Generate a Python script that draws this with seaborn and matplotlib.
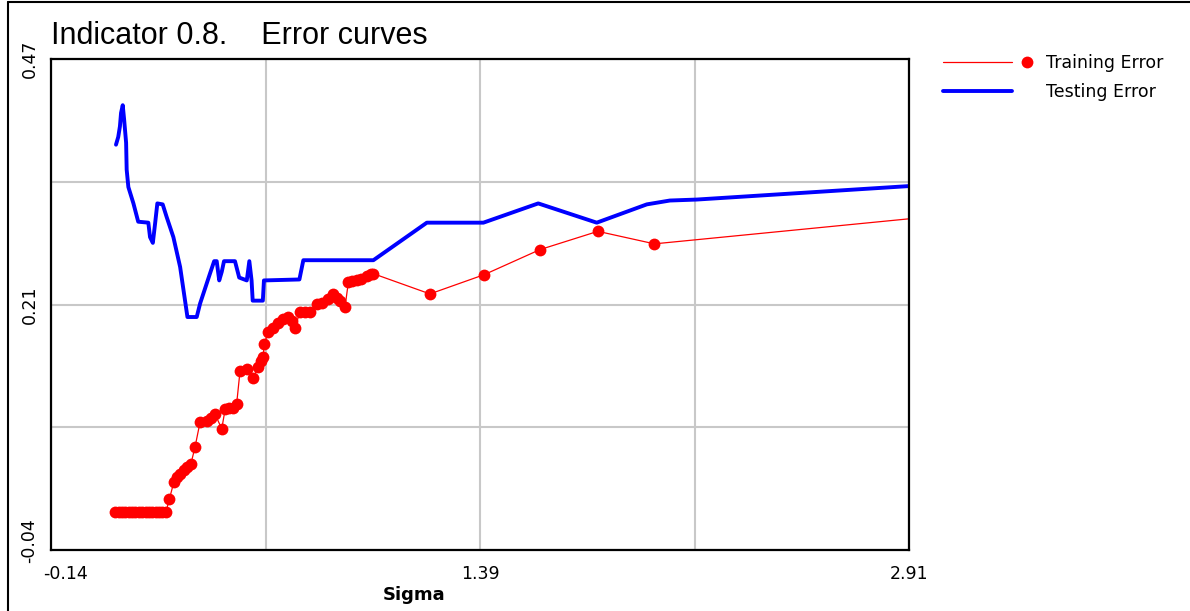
import numpy as np
import pandas as pd
import seaborn as sns
import matplotlib
matplotlib.use("Agg")
import matplotlib.pyplot as plt
from matplotlib.lines import Line2D
from matplotlib.legend_handler import HandlerBase
from matplotlib.transforms import ScaledTranslation

# Testing error curve (sigma, error)
test_sigma = [0.091, 0.099, 0.105, 0.109, 0.115, 0.120, 0.127, 0.129, 0.135, 0.153,
              0.170, 0.206, 0.212, 0.222, 0.230, 0.238, 0.257, 0.271, 0.295, 0.319,
              0.345, 0.378, 0.390, 0.425, 0.440, 0.449, 0.458, 0.467, 0.475, 0.514,
              0.529, 0.556, 0.565, 0.573, 0.577, 0.613, 0.617, 0.743, 0.757, 1.006,
              1.196, 1.397, 1.592, 1.800, 1.978, 2.060, 2.155, 2.910]
test_error = [0.381, 0.389, 0.400, 0.414, 0.422, 0.407, 0.383, 0.355, 0.337, 0.320,
              0.301, 0.300, 0.285, 0.279, 0.299, 0.320, 0.319, 0.306, 0.285, 0.254,
              0.202, 0.202, 0.216, 0.247, 0.260, 0.260, 0.240, 0.249, 0.260, 0.260,
              0.243, 0.240, 0.260, 0.240, 0.219, 0.219, 0.240, 0.241, 0.261, 0.261,
              0.300, 0.300, 0.320, 0.300, 0.319, 0.323, 0.324, 0.338]

# Training error curve (sigma, error)
train_sigma = [0.088, 0.100, 0.112, 0.124, 0.136, 0.148, 0.160, 0.172, 0.184, 0.196,
               0.208, 0.220, 0.232, 0.244, 0.256, 0.268, 0.281, 0.297, 0.308, 0.319,
               0.333, 0.345, 0.357, 0.372, 0.390, 0.414, 0.429, 0.443, 0.467, 0.479,
               0.493, 0.508, 0.520, 0.532, 0.556, 0.579, 0.597, 0.607, 0.615, 0.617,
               0.633, 0.650, 0.667, 0.686, 0.704, 0.717, 0.727, 0.745, 0.763, 0.781,
               0.805, 0.823, 0.845, 0.864, 0.877, 0.887, 0.905, 0.917, 0.930, 0.947,
               0.962, 0.982, 0.998, 1.006, 1.207, 1.400, 1.598, 1.804, 2.005, 2.910]
train_error = [-0.001, -0.001, -0.001, -0.001, -0.001, -0.001, -0.001, -0.001, -0.001, -0.001,
               -0.001, -0.001, -0.001, -0.001, -0.001, -0.001, 0.013, 0.031, 0.036, 0.039,
               0.043, 0.046, 0.049, 0.067, 0.093, 0.094, 0.097, 0.101, 0.086, 0.106,
               0.108, 0.108, 0.112, 0.146, 0.148, 0.139, 0.150, 0.156, 0.160, 0.174,
               0.186, 0.191, 0.196, 0.200, 0.202, 0.198, 0.191, 0.207, 0.207, 0.207,
               0.216, 0.217, 0.221, 0.226, 0.222, 0.219, 0.212, 0.238, 0.239, 0.240,
               0.242, 0.245, 0.247, 0.247, 0.226, 0.246, 0.272, 0.291, 0.278, 0.304]

x_ticks = [-0.14, 1.385, 2.91]
x_tick_labels = ["-0.14", "1.39", "2.91"]
y_ticks = [-0.04, 0.215, 0.47]
y_tick_labels = ["-0.04", "0.21", "0.47"]

title = "Indicator 0.8.    Error curves"
series_names = ["Training Error", "Testing Error"]

train_df = pd.DataFrame({"Sigma": train_sigma, "Error": train_error})
test_df = pd.DataFrame({"Sigma": test_sigma, "Error": test_error})

sns.set_style("white")
plt.rcParams["font.family"] = ["DejaVu Sans"]

RED = "#ff0000"
BLUE = "#0000ff"

fig = plt.figure(figsize=(11.9, 6.11), dpi=100)
ax = fig.add_axes([51 / 1190, 1 - 550 / 611, 858 / 1190, 491 / 611])

# the final training sample sits on the right border and carries no dot
sns.lineplot(data=train_df, x="Sigma", y="Error", ax=ax, sort=False, estimator=None,
             color=RED, linewidth=0.9, marker="o", markersize=8.5,
             markeredgewidth=0, markerfacecolor=RED,
             markevery=list(range(len(train_sigma) - 1)))
sns.lineplot(data=test_df, x="Sigma", y="Error", ax=ax, sort=False, estimator=None,
             color=BLUE, linewidth=2.8)

ax.set_xlim(x_ticks[0], x_ticks[-1])
ax.set_ylim(y_ticks[0], y_ticks[-1])

ax.set_xticks(x_ticks)
ax.set_xticklabels(x_tick_labels)
ax.set_yticks(y_ticks)
ax.set_yticklabels(y_tick_labels, rotation=90, va="center")
x_mid = [(x_ticks[0] + x_ticks[1]) / 2, (x_ticks[1] + x_ticks[2]) / 2]
y_mid = [(y_ticks[0] + y_ticks[1]) / 2, (y_ticks[1] + y_ticks[2]) / 2]
ax.set_xticks(x_mid, minor=True)
ax.set_yticks(y_mid, minor=True)

ax.tick_params(axis="both", which="major", direction="out", length=5, width=1.5,
               color="black", labelsize=12.5, labelcolor="black")
ax.tick_params(axis="x", which="major", pad=6)
ax.tick_params(axis="y", which="major", pad=4)
ax.tick_params(axis="both", which="minor", length=0)

# keep the two corner labels clear of each other
first_x = ax.get_xticklabels()[0]
first_x.set_horizontalalignment("left")
first_x.set_transform(first_x.get_transform() +
                      ScaledTranslation(-8 / 100, 0, fig.dpi_scale_trans))
first_y = ax.get_yticklabels()[0]
first_y.set_transform(first_y.get_transform() +
                      ScaledTranslation(0, 9 / 100, fig.dpi_scale_trans))

ax.grid(True, which="both", color="#c8c8c8", linewidth=1.5)
ax.set_axisbelow(True)
for side in ["left", "bottom", "top", "right"]:
    ax.spines[side].set_visible(True)
    ax.spines[side].set_color("black")
    ax.spines[side].set_linewidth(1.6)

ax.set_ylabel("")
ax.set_xlabel("Sigma", fontsize=13, fontweight="bold", color="black")
ax.xaxis.set_label_coords((414 - 51) / 858, -0.074)

fig.text(51 / 1190, 1 - 44 / 611, title, fontsize=22, color="black",
         family=["Liberation Sans Narrow", "Liberation Sans", "DejaVu Sans"],
         ha="left", va="baseline")


class LineWithDot(HandlerBase):
    """Legend key: a line followed by a separate dot on its right."""

    def __init__(self, dot=True, **kw):
        super().__init__(**kw)
        self.dot = dot

    def create_artists(self, legend, orig_handle, xdescent, ydescent, width, height,
                       fontsize, trans):
        y = height / 2 - ydescent
        x0 = -xdescent
        line = Line2D([x0, x0 + width * 0.8], [y, y], color=orig_handle.get_color(),
                      linewidth=orig_handle.get_linewidth())
        line.set_transform(trans)
        artists = [line]
        if self.dot:
            dot = Line2D([x0 + width * 0.97], [y], marker="o", markersize=8.5,
                         markeredgewidth=0, color=orig_handle.get_color(), linestyle="none")
            dot.set_transform(trans)
            artists.append(dot)
        return artists


h_train = Line2D([], [], color=RED, linewidth=0.9)
h_test = Line2D([], [], color=BLUE, linewidth=2.8)
fig.legend([h_train, h_test], series_names,
           handler_map={h_train: LineWithDot(dot=True), h_test: LineWithDot(dot=False)},
           loc="upper left", bbox_to_anchor=(943 / 1190, 1 - 54 / 611),
           frameon=False, fontsize=12.5, handlelength=5.0, handletextpad=0.95,
           labelspacing=0.62, borderpad=0, borderaxespad=0, labelcolor="black")

# Outer frame lines along the left and top edges of the figure
fig.add_artist(Line2D([8 / 1190, 8 / 1190], [0, 1 - 2 / 611], transform=fig.transFigure,
                      color="black", linewidth=1.5))
fig.add_artist(Line2D([8 / 1190, 1], [1 - 2 / 611, 1 - 2 / 611], transform=fig.transFigure,
                      color="black", linewidth=1.5))

fig.savefig("out.png", dpi=100)
